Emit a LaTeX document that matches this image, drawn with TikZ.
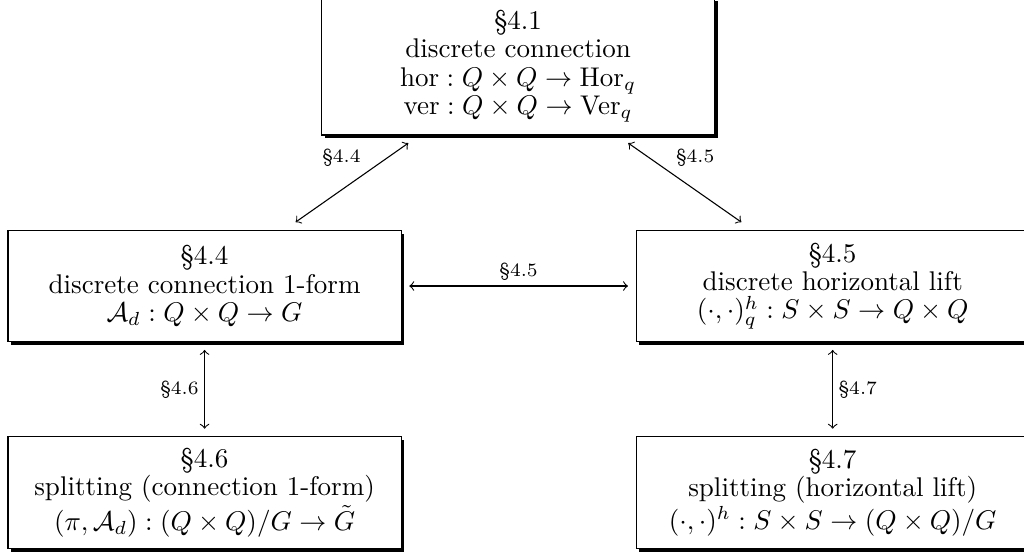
\documentclass[tikz,border=0pt]{standalone}
\usepackage{amsmath,amssymb}
\usetikzlibrary{shadows}

\begin{document}
\begin{tikzpicture}[
    >=to,
    section/.style={rectangle, draw, fill=white, align=center,
      font=\fontsize{10pt}{10.5pt}\selectfont,
      minimum width=5.11cm, minimum height=1.45cm, outer sep=3pt,
      drop shadow={opacity=1, fill=black, shadow xshift=1.2pt, shadow yshift=-1.2pt}},
    seclabel/.style={font=\scriptsize, inner sep=2pt},
  ]

  % Page frame
  \useasboundingbox (0,0) rectangle (13.31,-7.20);

  % Top box
  \node[section, minimum height=1.79cm] (sec41) at (6.734,-0.86)
    {\S4.1\\ discrete connection\\
     $\mathrm{hor} : Q \times Q \to \mathrm{Hor}_q$\\
     $\mathrm{ver} : Q \times Q \to \mathrm{Ver}_q$};

  % Middle row
  \node[section] (sec44) at (2.659,-3.718)
    {\S4.4\\ discrete connection 1-form\\ $\mathcal{A}_d : Q \times Q \to G$};
  \node[section] (sec45) at (10.823,-3.718)
    {\S4.5\\ discrete horizontal lift\\ $(\cdot,\cdot)^h_q : S \times S \to Q \times Q$};

  % Bottom row
  \node[section] (sec46) at (2.659,-6.403)
    {\S4.6\\ splitting (connection 1-form)\\ $(\pi,\mathcal{A}_d) : (Q \times Q)/G \to \tilde{G}$};
  \node[section] (sec47) at (10.823,-6.403)
    {\S4.7\\ splitting (horizontal lift)\\ $(\cdot,\cdot)^h : S \times S \to (Q \times Q)/G$};

  % Arrows from the top box
  \draw[<->] (sec41) -- node[seclabel, pos=.37, above left]  {\S4.4} (sec44);
  \draw[<->] (sec41) -- node[seclabel, pos=.37, above right] {\S4.5} (sec45);

  % Arrow between the middle boxes
  \draw[<->] (sec44) -- node[seclabel, above] {\S4.5} (sec45);

  % Arrows down to the splittings
  \draw[<->] (sec44) -- node[seclabel, left]  {\S4.6} (sec46);
  \draw[<->] (sec45) -- node[seclabel, right] {\S4.7} (sec47);

\end{tikzpicture}
\end{document}
